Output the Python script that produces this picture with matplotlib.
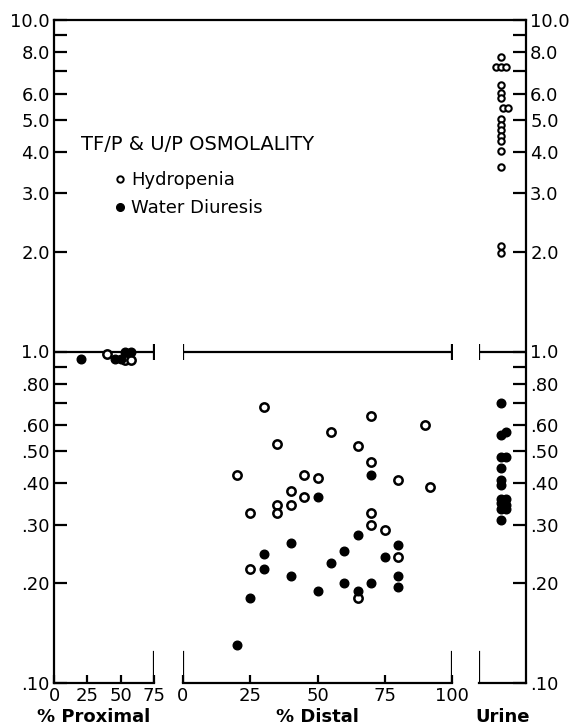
import matplotlib.pyplot as plt
from matplotlib.ticker import NullFormatter, NullLocator

plt.rcParams['font.family'] = 'DejaVu Sans'

# TF/P along the proximal tubule (% of length)
prox_hydro_x = [40, 53, 58]
prox_hydro_y = [0.98, 0.94, 0.94]
prox_diur_x = [20, 46, 50, 53, 58]
prox_diur_y = [0.95, 0.95, 0.95, 1.0, 1.0]

# TF/P along the distal tubule (% of length)
dist_hydro_x = [30, 70, 90, 55, 35, 65, 70, 20, 45, 50, 80, 92,
                40, 45, 35, 40, 25, 35, 70, 70, 75, 80, 25, 65]
dist_hydro_y = [0.68, 0.64, 0.60, 0.57, 0.525, 0.52, 0.465, 0.425, 0.425, 0.415, 0.41, 0.39,
                0.38, 0.365, 0.345, 0.345, 0.325, 0.325, 0.325, 0.30, 0.29, 0.24, 0.22, 0.18]
dist_diur_x = [70, 50, 65, 40, 80, 30, 60, 75, 55, 30, 40, 80, 60, 70, 80, 50, 65, 25, 20]
dist_diur_y = [0.425, 0.365, 0.28, 0.265, 0.26, 0.245, 0.25, 0.24, 0.23, 0.22,
               0.21, 0.21, 0.20, 0.20, 0.195, 0.19, 0.19, 0.18, 0.13]

# U/P (x is only the column offset inside the urine panel)
urine_hydro_x = [0.47, 0.36, 0.47, 0.57, 0.47, 0.47, 0.47, 0.50, 0.62,
                 0.47, 0.47, 0.47, 0.47, 0.47, 0.47, 0.47, 0.47, 0.47]
urine_hydro_y = [7.73, 7.23, 7.23, 7.23, 6.37, 6.02, 5.80, 5.43, 5.43,
                 5.02, 4.83, 4.65, 4.47, 4.31, 4.03, 3.61, 2.08, 1.98]
urine_diur_x = [0.47, 0.47, 0.57, 0.47, 0.57, 0.47, 0.47, 0.47,
                0.47, 0.57, 0.47, 0.57, 0.47, 0.57, 0.47]
urine_diur_y = [0.70, 0.56, 0.57, 0.48, 0.48, 0.445, 0.41, 0.395,
                0.36, 0.36, 0.35, 0.345, 0.335, 0.335, 0.31]

ytick_vals = [0.1, 0.2, 0.3, 0.4, 0.5, 0.6, 0.8, 1, 2, 3, 4, 5, 6, 8, 10]
ytick_labels = ['.10', '.20', '.30', '.40', '.50', '.60', '.80',
                '1.0', '2.0', '3.0', '4.0', '5.0', '6.0', '8.0', '10.0']
yminor_vals = [0.7, 0.9, 7, 9]

W, H = 572, 726
fig = plt.figure(figsize=(W / 100, H / 100), dpi=100)


def px(x0, x1, y0=20, y1=683):
    return [x0 / W, 1 - y1 / H, (x1 - x0) / W, (y1 - y0) / H]


open_style = dict(ls='none', marker='o', mfc='white', mec='black', ms=6, mew=1.8, clip_on=False)
fill_style = dict(ls='none', marker='o', color='black', ms=6.2, clip_on=False)

# frame with the two log axes
ax = fig.add_axes(px(54, 526))
ax.set_yscale('log')
ax.set_ylim(0.1, 10)
ax.set_xlim(0, 1)
ax.spines['bottom'].set_visible(False)
for s in ['left', 'right', 'top']:
    ax.spines[s].set_linewidth(1.6)
ax.set_xticks([])
ax.set_yticks(ytick_vals, ytick_labels)
ax.set_yticks(yminor_vals, minor=True)
ax.yaxis.set_minor_formatter(NullFormatter())
ax.tick_params(axis='y', which='both', direction='in', length=9.5, width=1.6,
               left=True, right=True, labelleft=True, labelright=True,
               labelsize=13, pad=3)


def panel(x0, x1, xmax, xticks, xlabel, caps, labelpad=2, labelx=0.5):
    a = fig.add_axes(px(x0, x1), facecolor='none')
    a.set_yscale('log')
    a.set_ylim(0.1, 10)
    a.set_xlim(0, xmax)
    for s in ['left', 'right', 'top']:
        a.spines[s].set_visible(False)
    a.spines['bottom'].set_linewidth(1.6)
    a.yaxis.set_major_locator(NullLocator())
    a.yaxis.set_minor_locator(NullLocator())
    a.set_xticks(xticks, [str(t) for t in xticks])
    a.tick_params(axis='x', direction='in', length=6, width=1.6,
                  labelsize=13, pad=3)
    a.set_xlabel(xlabel, fontsize=13, fontweight='bold', labelpad=labelpad)
    a.xaxis.label.set_x(labelx)
    # line at 1.0 with end caps, and short brackets at the base
    a.plot([0, xmax], [1, 1], color='black', lw=1.6)
    for c in caps:
        a.plot([c], [1], ls='none', marker='|', ms=12, mew=1.6, color='black')
        a.axvline(c, ymax=0.047, color='black', lw=1.6)
    return a


ax_p = panel(54, 154, 75, [0, 25, 50, 75], '% Proximal', [75], labelx=0.4)
ax_p.plot(prox_hydro_x, prox_hydro_y, **open_style)
ax_p.plot(prox_diur_x, prox_diur_y, **fill_style)

ax_d = panel(183, 452, 100, [0, 25, 50, 75, 100], '% Distal', [0, 100])
ax_d.plot(dist_hydro_x, dist_hydro_y, **open_style)
ax_d.plot(dist_diur_x, dist_diur_y, **fill_style)

ax_u = panel(479, 526, 1, [], 'Urine', [0], labelpad=18)
ax_u.plot(urine_hydro_x, urine_hydro_y, ls='none', marker='o', mfc='white',
          mec='black', ms=4.6, mew=1.5, clip_on=False)
ax_u.plot(urine_diur_x, urine_diur_y, **fill_style)

# key
fig.text(81 / W, 1 - 144 / H, 'TF/P & U/P OSMOLALITY', fontsize=14, va='center')
ax.plot([120 / W], [1 - 179 / H], ls='none', marker='o', mfc='white', mec='black',
        ms=4.6, mew=1.4, transform=fig.transFigure, clip_on=False)
ax.plot([120 / W], [1 - 207 / H], ls='none', marker='o', color='black',
        ms=5.5, transform=fig.transFigure, clip_on=False)
fig.text(131 / W, 1 - 180 / H, 'Hydropenia', fontsize=13, va='center')
fig.text(131 / W, 1 - 208 / H, 'Water Diuresis', fontsize=13, va='center')

fig.savefig('out.png', dpi=100)
